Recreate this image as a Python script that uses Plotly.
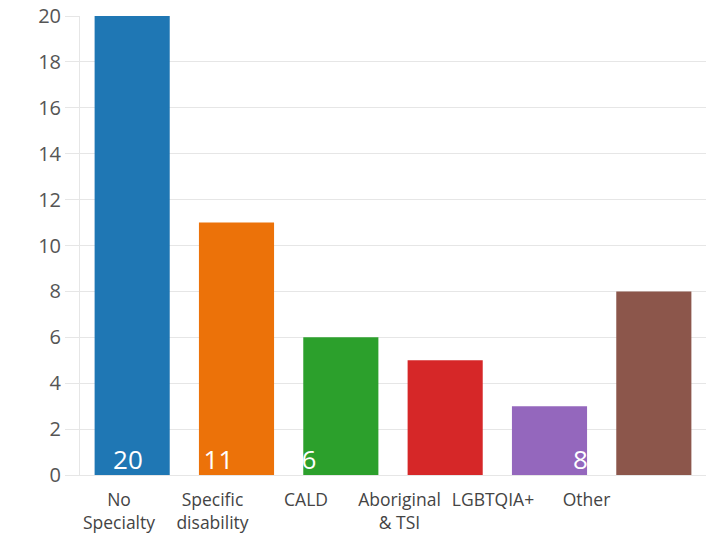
import plotly.graph_objects as go

categories = ["No Specialty", "Specific disability", "CALD", "Aboriginal & TSI", "LGBTQIA+", "Other"]
tick_labels = ["No<br>Specialty", "Specific<br>disability", "CALD", "Aboriginal<br>& TSI", "LGBTQIA+", "Other"]
values = [20, 11, 6, 5, 3, 8]
colors = ["#1f77b4", "#ec7209", "#2ca02c", "#d62728", "#9467bd", "#8c564b"]

fig = go.Figure()
fig.add_trace(go.Bar(x=categories, y=values, marker=dict(color=colors, line=dict(width=0)),
                     xaxis="x", yaxis="y", showlegend=False, hoverinfo="x+y"))
# value labels (offset overlay, white text)
fig.add_trace(go.Scatter(x=list(range(len(values))), y=[0] * len(values), mode="text",
                         text=[str(v) for v in values], textposition="top center",
                         textfont=dict(family="Open Sans", size=26, color="white"),
                         xaxis="x2", yaxis="y", showlegend=False, hoverinfo="skip"))
# invisible trace to hold the category label axis
fig.add_trace(go.Scatter(x=list(range(len(values))), y=[0] * len(values), mode="markers",
                         marker=dict(opacity=0), xaxis="x3", yaxis="y", showlegend=False,
                         hoverinfo="skip"))

fig.update_layout(
    width=709, height=538,
    margin=dict(l=80, r=3, t=16, b=63),
    paper_bgcolor="white", plot_bgcolor="white",
    bargap=0.28,
    xaxis=dict(type="category", showticklabels=False, ticks="", showgrid=False,
               showline=False, zeroline=False, domain=[0, 1]),
    xaxis2=dict(range=[-0.530, 6.387], overlaying="x", visible=False, anchor="y"),
    xaxis3=dict(range=[-0.417, 6.278], overlaying="x", anchor="y", side="bottom",
                tickmode="array", tickvals=list(range(len(tick_labels))), ticktext=tick_labels,
                ticks="", showgrid=False, showline=True, linecolor="#e6e6e6", linewidth=1,
                zeroline=False,
                tickfont=dict(family="Open Sans", size=17.5, color="#444444"),
                ticklabelstandoff=9),
    yaxis=dict(range=[0, 20], dtick=2, tick0=0, showgrid=True, gridcolor="#e6e6e6",
               gridwidth=1, ticks="outside", ticklen=14, tickcolor="#e6e6e6",
               showline=True, linecolor="#e6e6e6", zeroline=False,
               tickfont=dict(family="Open Sans", size=20, color="#555555")),
)

fig.write_html("out.html")
